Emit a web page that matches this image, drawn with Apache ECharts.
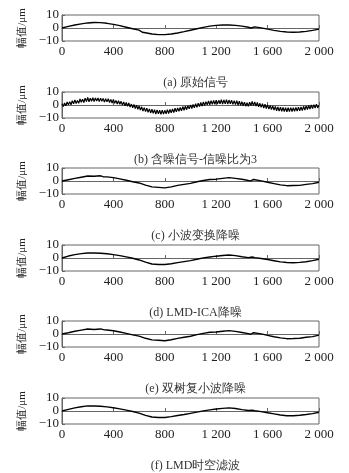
<!DOCTYPE html>
<html>
<head>
<meta charset="utf-8">
<script src="https://cdn.jsdelivr.net/npm/echarts@6/dist/echarts.min.js"></script>
<style>
html,body{margin:0;padding:0;background:#fff;}
#c{width:349px;height:473px;}
</style>
</head>
<body>
<div id="c"></div>
<script>
// ---- data ----
var captions = ['(a) 原始信号', '(b) 含噪信号-信噪比为3', '(c) 小波变换降噪', '(d) LMD-ICA降噪', '(e) 双树复小波降噪', '(f) LMD时空滤波'];
var xTicks = [0, 400, 800, 1200, 1600, 2000];
var yTicks = [-10, 0, 10];
var yName = '幅值/μm';

// (a) original signal
var xA = [0,50,100,150,200,250,300,350,400,450,500,550,600,615,625,650,700,750,800,850,900,950,1000,1050,1100,1150,1200,1250,1300,1350,1400,1450,1470,1478,1500,1550,1600,1650,1700,1750,1800,1850,1900,1950,2000];
var yA = [0,1.2,2.3,3.2,3.9,4.2,4.1,3.6,2.8,1.8,0.6,-0.6,-1.6,-1.9,-3.3,-3.7,-4.6,-5.1,-5.1,-4.6,-3.8,-2.8,-1.7,-0.6,0.5,1.4,2.0,2.3,2.3,2.0,1.4,0.6,0.0,1.3,0.9,0.1,-0.9,-1.8,-2.6,-3.1,-3.3,-3.1,-2.6,-1.8,-0.9];

// (b) noisy signal, one value every 10 samples from 0 to 2000
var yB = [
0.9,-1.1,1.6,-0.6,2.3,0.1,2.6,0.2,3.3,1.0,
3.9,1.1,3.4,1.3,4.6,2.1,4.5,1.9,5.3,2.6,
5.8,2.5,5.2,2.9,5.6,2.7,5.5,3.0,5.4,2.6,
5.3,2.8,5.1,2.2,4.9,2.4,4.8,1.9,4.3,1.6,
4.2,1.3,3.5,0.8,3.3,0.5,2.8,-0.1,2.4,-0.6,
1.9,-1.0,1.5,-1.6,0.7,-2.1,0.4,-2.8,-0.2,-3.3,
-0.8,-3.9,-1.4,-4.6,-2.0,-5.1,-2.5,-5.7,-3.0,-6.1,
-3.3,-6.4,-3.6,-6.9,-3.7,-6.8,-4.0,-7.1,-3.9,-6.9,
-4.1,-6.7,-3.6,-6.5,-3.4,-6.0,-3.1,-5.8,-2.5,-5.3,
-2.2,-4.9,-1.9,-4.4,-1.2,-4.0,-0.9,-3.6,-0.5,-3.0,
0.1,-2.7,0.4,-2.1,1.0,-1.8,1.4,-1.2,1.9,-0.9,
2.3,-0.4,2.6,0.1,3.1,0.2,3.4,0.5,3.5,0.6,
3.8,0.7,3.6,0.9,4.0,0.8,3.9,1.0,4.1,0.7,
3.8,0.9,3.6,0.5,3.4,0.3,3.3,0.0,2.9,-0.3,
2.5,-0.6,2.2,-0.9,1.8,-1.1,2.1,-0.4,2.7,-0.5,
2.3,-0.9,1.9,-1.4,1.3,-1.8,1.0,-2.3,0.6,-2.7,
0.1,-3.2,-0.4,-3.6,-0.7,-3.9,-1.1,-4.4,-1.5,-4.6,
-1.7,-4.9,-1.9,-5.0,-2.0,-5.2,-2.1,-5.1,-2.0,-5.0,
-2.1,-4.9,-1.9,-4.7,-1.6,-4.5,-1.4,-4.3,-1.0,-3.9,
-0.7,-3.5,-0.4,-3.1,0.0,-2.8,0.3,-2.4,0.6,-2.2,
-0.3];

// (c) wavelet denoised
var xC = [0,50,100,150,200,250,300,320,350,400,450,500,550,600,650,700,750,800,850,900,950,1000,1050,1100,1150,1200,1250,1300,1350,1400,1450,1470,1490,1550,1600,1650,1700,1750,1800,1850,1900,1950,2000];
var yC = [0,1.0,2.0,2.9,3.8,3.6,4.0,3.3,3.2,2.6,1.6,0.6,-0.6,-1.5,-3.2,-4.5,-4.9,-5.3,-4.5,-3.4,-2.6,-1.8,-0.6,0.4,1.2,1.4,2.0,2.6,2.0,1.3,0.4,0.1,1.2,0.1,-1.0,-2.0,-3.0,-3.6,-3.5,-3.4,-2.6,-2.0,-1.0];

// (d) LMD-ICA denoised
var xD = [0,50,100,150,200,250,300,350,400,450,500,550,600,650,700,750,800,850,900,950,1000,1050,1100,1150,1200,1250,1300,1350,1400,1450,1480,1500,1550,1600,1650,1700,1750,1800,1850,1900,1950,2000];
var yD = [0,1.5,2.6,3.4,3.9,3.9,3.7,3.3,2.6,1.8,0.9,-0.2,-1.5,-3.2,-4.6,-5.0,-5.0,-4.4,-3.6,-2.8,-2.0,-1.0,0.1,0.8,1.4,1.9,2.3,1.8,1.0,0.3,0.8,0.3,-0.4,-1.2,-2.1,-3.0,-3.5,-3.6,-3.4,-2.9,-2.0,-1.0];

// (e) dual-tree complex wavelet denoised
var xE = [0,50,100,150,200,250,300,330,350,400,450,500,550,600,650,700,750,800,850,900,950,1000,1050,1100,1150,1200,1250,1300,1350,1400,1450,1470,1490,1550,1600,1650,1700,1750,1800,1850,1900,1950,2000];
var yE = [0,1.0,2.1,3.0,3.8,3.5,3.9,3.2,3.1,2.5,1.5,0.5,-0.7,-1.6,-3.3,-4.5,-4.8,-5.2,-4.4,-3.4,-2.5,-1.7,-0.5,0.5,1.3,1.5,2.1,2.6,2.0,1.2,0.3,-0.2,1.0,0.1,-1.1,-2.1,-3.0,-3.6,-3.5,-3.3,-2.5,-2.0,-0.9];

// (f) LMD spatio-temporal filtering
var xF = [0,50,100,150,200,250,300,350,400,450,500,550,600,650,700,750,800,850,900,950,1000,1050,1100,1150,1200,1250,1300,1350,1400,1450,1480,1500,1550,1600,1650,1700,1750,1800,1850,1900,1950,2000];
var yF = [0,1.3,2.4,3.3,3.9,3.8,3.7,3.2,2.5,1.6,0.7,-0.4,-1.6,-3.4,-4.6,-5.0,-5.0,-4.3,-3.5,-2.7,-1.8,-0.9,0.1,0.9,1.5,2.0,2.4,1.9,1.1,0.4,0.6,0.2,-0.5,-1.3,-2.2,-3.1,-3.6,-3.6,-3.3,-2.7,-2.0,-1.0];

// ---- build ----
(function(){
function pairs(xs, ys){ var o=[]; for(var i=0;i<ys.length;i++){o.push([xs[i], ys[i]]);} return o; }
var xB = []; for (var k=0;k<yB.length;k++){ xB.push(k*10); }
var sets = [pairs(xA,yA), pairs(xB,yB), pairs(xC,yC), pairs(xD,yD), pairs(xE,yE), pairs(xF,yF)];

var serif = 'Liberation Serif';
function fmtX(v){ if (v >= 1000) { var s = String(v); return s.charAt(0) + ' ' + s.slice(1); } return String(v); }
function fmtY(v){ return v < 0 ? '\u2212' + String(-v) : String(v); }

var gLeft = 62, gWidth = 257, gHeight = 26, gTop0 = 15, gStep = 76.6;
var grids=[], xAxes=[], yAxes=[], series=[], titles=[];
for (var i=0;i<6;i++){
  var gt = Math.round(gTop0 + gStep*i);
  grids.push({left:gLeft, top:gt, width:gWidth, height:gHeight, show:true, borderColor:'#666', borderWidth:1});
  xAxes.push({type:'value', gridIndex:i, min:xTicks[0], max:xTicks[xTicks.length-1], interval:400,
    axisLine:{show:true, lineStyle:{color:'#666', width:1}},
    axisTick:{show:true, inside:true, length:3, lineStyle:{color:'#666'}},
    splitLine:{show:false},
    axisLabel:{color:'#222', fontFamily:serif, fontSize:13, margin:4, formatter:fmtX}
  });
  yAxes.push({type:'value', gridIndex:i, min:yTicks[0], max:yTicks[yTicks.length-1], interval:10,
    name:yName, nameLocation:'middle', nameGap:26,
    nameTextStyle:{color:'#222', fontFamily:serif, fontSize:11},
    axisLine:{show:true, lineStyle:{color:'#666', width:1}},
    axisTick:{show:true, inside:true, length:3, lineStyle:{color:'#666'}},
    splitLine:{show:false},
    axisLabel:{color:'#222', fontFamily:serif, fontSize:13, margin:3, formatter:fmtY}
  });
  series.push({type:'line', xAxisIndex:i, yAxisIndex:i, data:sets[i], showSymbol:false, symbol:'none',
    lineStyle:{color:'#000', width: i===1 ? 1.2 : 1.4}});
  titles.push({text:captions[i], left: gLeft + gWidth/2, top: gt + 57, textAlign:'center',
    textStyle:{color:'#333', fontFamily:serif, fontSize:12, fontWeight:'normal'}});
}

var chart = echarts.init(document.getElementById('c'));
chart.setOption({animation:false, backgroundColor:'#fff', title:titles, grid:grids, xAxis:xAxes, yAxis:yAxes, series:series});
})();
</script>
</body>
</html>
